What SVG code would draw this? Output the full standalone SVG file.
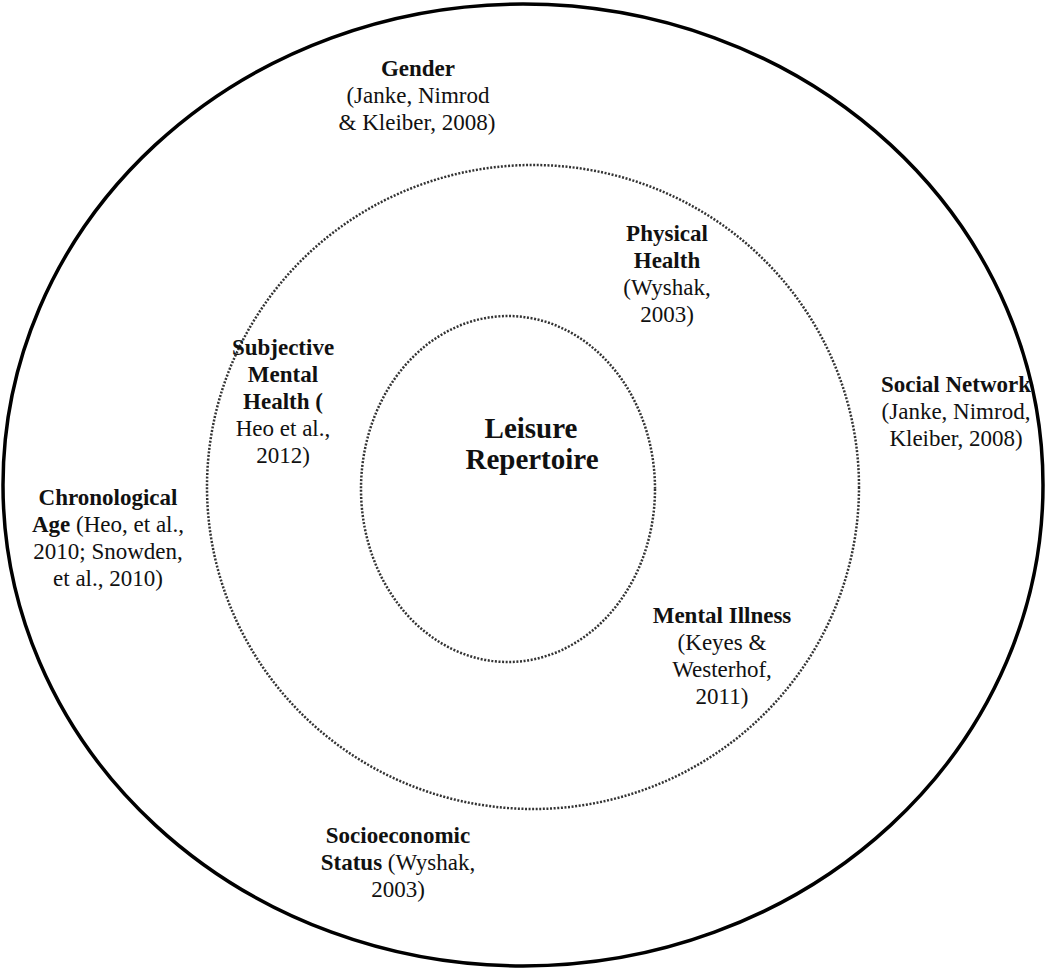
<svg xmlns="http://www.w3.org/2000/svg" width="1047" height="970" viewBox="0 0 1047 970">
<style>
.ring-solid{fill:none;stroke:#000;stroke-width:3.5}
.ring-dot{fill:none;stroke:#333;stroke-width:2.5;stroke-dasharray:2 1.6}
.lbl text{font-size:23px;fill:#111;text-anchor:middle}
.b{font-weight:bold}
.lbl .title{font-size:29px;font-weight:bold}
</style>
<rect width="1047" height="970" fill="#fff"/>
<g id="outer-ring"><ellipse class="ring-solid" cx="523" cy="485" rx="520" ry="481"/></g>
<g id="middle-ring"><ellipse class="ring-dot" cx="533" cy="487" rx="326" ry="322"/></g>
<g id="inner-ring"><ellipse class="ring-dot" cx="508" cy="489" rx="147" ry="173"/></g>
<g class="lbl" font-family="Liberation Serif, Times New Roman, DejaVu Serif, serif">
<g id="center">
<text class="title" x="531" y="438">Leisure</text>
<text class="title" x="532" y="469">Repertoire</text>
</g>
<g id="gender">
<text class="b" x="418" y="76">Gender</text>
<text x="418" y="103">(Janke, Nimrod</text>
<text x="417" y="130">&amp; Kleiber, 2008)</text>
</g>
<g id="physical-health">
<text class="b" x="667" y="241">Physical</text>
<text class="b" x="667" y="268">Health</text>
<text x="667" y="295">(Wyshak,</text>
<text x="667" y="322">2003)</text>
</g>
<g id="subjective-mental-health">
<text class="b" x="283" y="355">Subjective</text>
<text class="b" x="283" y="382">Mental</text>
<text class="b" x="283" y="409">Health (</text>
<text x="283" y="436">Heo et al.,</text>
<text x="283" y="463">2012)</text>
</g>
<g id="social-network">
<text class="b" x="956" y="392">Social Network</text>
<text x="956" y="419">(Janke, Nimrod,</text>
<text x="956" y="446">Kleiber, 2008)</text>
</g>
<g id="chronological-age">
<text class="b" x="108" y="505">Chronological</text>
<text x="108" y="532"><tspan class="b">Age</tspan> (Heo, et al.,</text>
<text x="108" y="559">2010; Snowden,</text>
<text x="108" y="586">et al., 2010)</text>
</g>
<g id="mental-illness">
<text class="b" x="722" y="623">Mental Illness</text>
<text x="722" y="650">(Keyes &amp;</text>
<text x="722" y="677">Westerhof,</text>
<text x="722" y="704">2011)</text>
</g>
<g id="socioeconomic-status">
<text class="b" x="398" y="843">Socioeconomic</text>
<text x="398" y="870"><tspan class="b">Status</tspan> (Wyshak,</text>
<text x="398" y="897">2003)</text>
</g>
</g>
<g id="connectors"></g>
</svg>
